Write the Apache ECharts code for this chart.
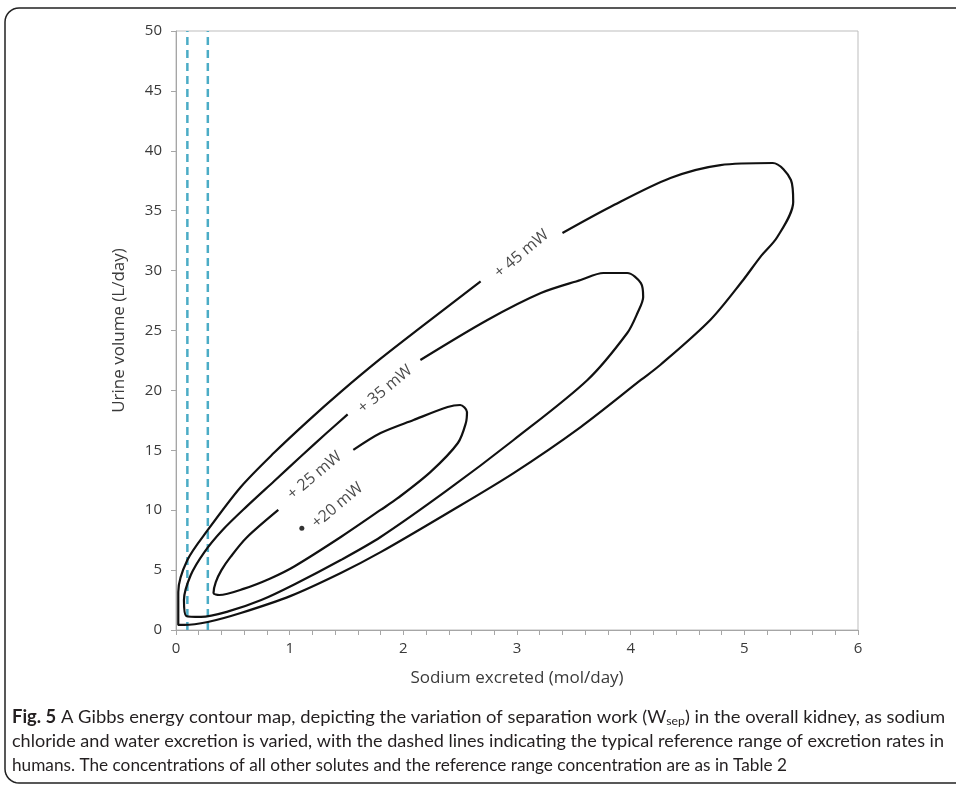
<!DOCTYPE html>
<html>
<head>
<meta charset="utf-8">
<script src="https://cdn.jsdelivr.net/npm/echarts@6/dist/echarts.min.js"></script>
<style>
html,body{margin:0;padding:0;background:#fff;}
#chart{width:956px;height:788px;}
</style>
</head>
<body>
<div id="chart"></div>
<script>
// ---- data ----
const xTicks = [0, 1, 2, 3, 4, 5, 6];
const yTicks = [0, 5, 10, 15, 20, 25, 30, 35, 40, 45, 50];
const refRange = [0.1, 0.28];               // dashed reference lines (mol/day)

// +45 mW contour, open at label gap
const contour45 = [
  [3.40,33.14],[3.82,35.31],[4.35,37.73],[4.79,38.81],[5.25,38.98],[5.41,37.56],[5.43,35.73],
  [5.29,32.80],[5.14,31.13],[4.99,29.22],[4.70,25.88],[4.26,22.12],[4.09,20.87],[3.56,16.94],
  [2.97,13.10],[2.39,9.77],[1.80,6.50],[1.45,4.76],[1.01,2.85],[0.57,1.42],[0.28,0.67],
  [0.07,0.42],[0.02,0.42],[0.02,3.17],[0.10,5.84],[0.28,8.35],[0.57,11.94],[0.86,14.77],
  [1.16,17.44],[1.45,19.88],[1.80,22.65],[2.15,25.24],[2.68,29.10]
];
// +35 mW contour
const contour35 = [
  [2.15,22.54],[2.74,25.88],[3.21,28.13],[3.56,29.22],[3.76,29.80],[3.97,29.80],[4.09,28.96],
  [4.11,27.80],[4.06,26.46],[3.97,24.79],[3.62,20.87],[2.97,15.86],[2.39,11.69],[1.80,7.76],
  [1.45,5.84],[1.04,3.80],[0.75,2.50],[0.46,1.55],[0.22,1.09],[0.09,1.17],[0.07,2.50],
  [0.13,4.59],[0.25,6.51],[0.41,8.35],[0.62,10.30],[0.86,12.40],[1.10,14.50],[1.32,16.40],
  [1.51,18.00]
];
// +25 mW contour
const contour25 = [
  [1.56,15.03],[1.80,16.44],[2.09,17.53],[2.39,18.61],[2.50,18.78],[2.56,18.20],[2.55,17.28],
  [2.48,15.61],[2.24,13.20],[1.95,11.00],[1.80,10.02],[1.45,7.76],[1.04,5.30],[0.83,4.30],
  [0.60,3.45],[0.38,2.92],[0.33,3.09],[0.35,4.00],[0.40,5.00],[0.48,6.10],[0.62,7.70],
  [0.90,10.02]
];
// +20 mW point
const point20 = [1.107, 8.5];

const labelTexts = ['+ 45 mW', '+ 35 mW', '+ 25 mW', '+20 mW'];
const labelPos = [[3.04,31.4],[1.84,20.1],[1.22,12.9],[1.42,10.4]];

const xName = 'Sodium excreted (mol/day)';
const yName = 'Urine volume (L/day)';

const captionLines = [
  [{t:'Fig. 5', b:true}, {t:' A Gibbs energy contour map, depicting the variation of separation work (W'}, {t:'sep', sub:true}, {t:') in the overall kidney, as sodium'}],
  [{t:'chloride and water excretion is varied, with the dashed lines indicating the typical reference range of excretion rates in'}],
  [{t:'humans. The concentrations of all other solutes and the reference range concentration are as in Table 2'}]
];

// ---- chart ----
const axisFont = "'Open Sans', sans-serif";
const capFamily = "Lato, sans-serif";
const axisGray = '#a6a6a6';

const chart = echarts.init(document.getElementById('chart'), null, {renderer:'canvas'});

function contourSeries(data){
  return {type:'line', data:data, smooth:0.3, showSymbol:false, symbol:'none',
    lineStyle:{color:'#111', width:2.2}, z:3, silent:true, animation:false};
}

// caption graphics
const mctx = document.createElement('canvas').getContext('2d');
function segFont(s){
  const size = s.sub ? 12 : 18;
  return (s.b ? 'bold ' : '') + size + 'px ' + capFamily;
}
const capTargets = [933, 932, 775];
const capY = [717, 741, 765];
const capX = 12;
const graphics = [];
captionLines.forEach((segs, i) => {
  let total = 0;
  const widths = segs.map(s => { mctx.font = segFont(s); const w = mctx.measureText(s.t).width; total += w; return w; });
  const sc = capTargets[i] / total;
  let cx = capX;
  segs.forEach((s, j) => {
    graphics.push({type:'text', x:cx, y:capY[i] + (s.sub ? 4 : 0), scaleX:sc, silent:true,
      style:{text:s.t, font:segFont(s), fill:'#231f20', verticalAlign:'middle', align:'left'}});
    cx += widths[j] * sc;
  });
});
// outer frame (open on the right): rounded corners sampled as quarter arcs
(function(){
  const L = 5, T = 8, B = 783, R = 14, pts = [[960, T]];
  for (let k = 0; k <= 8; k++) { const a = Math.PI/2 * k/8; pts.push([L + R - R*Math.sin(a), T + R - R*Math.cos(a)]); }
  for (let k = 0; k <= 8; k++) { const a = Math.PI/2 * k/8; pts.push([L + R - R*Math.cos(a), B - R + R*Math.sin(a)]); }
  pts.push([960, B]);
  graphics.push({type:'polyline', silent:true, shape:{points:pts}, style:{fill:null, stroke:'#222', lineWidth:1.5}});
})();

const labelSeries = labelTexts.map((t, i) => ({
  type:'scatter', data:[labelPos[i]], symbolSize:0, silent:true, z:4,
  label:{show:true, position:'inside', formatter:t, rotate:40, color:'#1a1a1a',
    fontFamily:axisFont, fontSize:16}
}));

const option = {
  animation:false,
  backgroundColor:'#fff',
  grid:{left:176, right:98, top:31, bottom:158, show:true, borderColor:'#bdbdbd', borderWidth:1, containLabel:false},
  xAxis:{type:'value', min:xTicks[0], max:xTicks[xTicks.length-1], interval:1,
    name:xName, nameLocation:'middle', nameGap:40,
    nameTextStyle:{fontFamily:axisFont, fontSize:17, color:'#3a3a3a'},
    axisLine:{show:true, lineStyle:{color:axisGray, width:1}},
    axisTick:{show:true, length:5, lineStyle:{color:axisGray}},
    minorTick:{show:true, splitNumber:5, length:5, lineStyle:{color:axisGray}},
    splitLine:{show:false}, minorSplitLine:{show:false},
    axisLabel:{margin:11, fontFamily:axisFont, fontSize:15, color:'#3a3a3a'}
  },
  yAxis:{type:'value', min:yTicks[0], max:yTicks[yTicks.length-1], interval:5,
    name:yName, nameLocation:'middle', nameGap:48,
    nameTextStyle:{fontFamily:axisFont, fontSize:17, color:'#3a3a3a'},
    axisLine:{show:true, lineStyle:{color:axisGray, width:1}},
    axisTick:{show:true, length:5, lineStyle:{color:axisGray}},
    splitLine:{show:false},
    axisLabel:{margin:14, fontFamily:axisFont, fontSize:15, color:'#3a3a3a'}
  },
  graphic:graphics,
  series:[
    ...refRange.map(v => ({type:'line', data:[[v,0],[v,50]], showSymbol:false, symbol:'none', z:2, silent:true,
      lineStyle:{color:'#4bacc6', width:2.5, type:[8,5]}})),
    contourSeries(contour45),
    contourSeries(contour35),
    contourSeries(contour25),
    {type:'scatter', data:[point20], symbolSize:5, itemStyle:{color:'#000'}, z:4, silent:true},
    ...labelSeries
  ]
};
chart.setOption(option);
</script>
</body>
</html>
